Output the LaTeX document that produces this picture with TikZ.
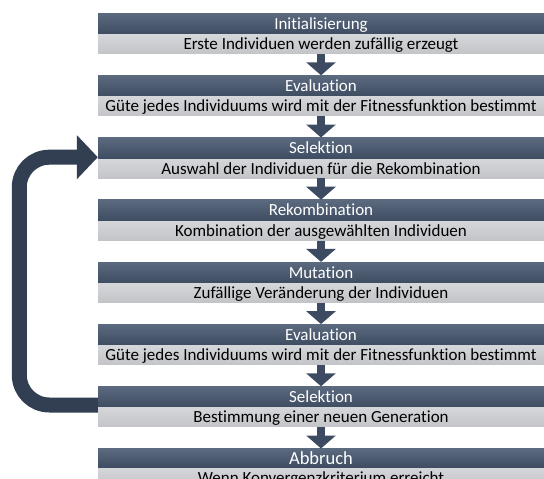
\documentclass[tikz,border=0pt]{standalone}
\usepackage{fontspec}
\setmainfont{Carlito}[Ligatures=NoCommon]
\usepackage{tikz}
\usetikzlibrary{arrows.meta,positioning}
\definecolor{headtop}{RGB}{92,106,128}
\definecolor{headbot}{RGB}{62,76,98}
\definecolor{subtop}{RGB}{212,214,217}
\definecolor{subbot}{RGB}{194,196,200}
\definecolor{arrowblue}{RGB}{61,75,98}
\definecolor{loopblue}{RGB}{50,62,82}

\begin{document}
\begin{tikzpicture}[
    x=1pt, y=-1pt,
    font=\fontsize{17}{20}\selectfont,
    head/.style={rectangle, top color=headtop, bottom color=headbot, text=white,
      minimum width=446pt, minimum height=21pt, inner sep=0pt,
      text height=10.9pt, text depth=0pt},
    headbig/.style={head, minimum height=19pt, text height=11.9pt,
      font=\fontsize{18.5}{22}\selectfont},
    sub/.style={head, top color=subtop, bottom color=subbot, text=black,
      minimum height=19pt},
    down/.style={-{Triangle[width=29pt, length=13pt]}, line width=8pt, arrowblue},
    back/.style={-{Triangle[width=43pt, length=21pt]}, line width=15pt, loopblue,
      rounded corners=30pt}
  ]
    \useasboundingbox (0,0) rectangle (544,479);
    \clip (0,0) rectangle (544,479);
    \node[head] (init) at (321,23.8) {Initialisierung};
    \node[sub, below=0pt of init] (initS) {Erste Individuen werden zufällig erzeugt};
    \node[head, below=21.4pt of initS] (evalA) {Evaluation};
    \node[sub, below=0pt of evalA] (evalAS)
      {Güte jedes Individuums wird mit der Fitnessfunktion bestimmt};
    \node[head, below=21.4pt of evalAS] (selA) {Selektion};
    \node[sub, below=0pt of selA] (selAS) {Auswahl der Individuen für die Rekombination};
    \node[head, below=21.4pt of selAS] (rekomb) {Rekombination};
    \node[sub, below=0pt of rekomb] (rekombS) {Kombination der ausgewählten Individuen};
    \node[head, below=21.4pt of rekombS] (mut) {Mutation};
    \node[sub, below=0pt of mut] (mutS) {Zufällige Veränderung der Individuen};
    \node[head, below=21.4pt of mutS] (evalB) {Evaluation};
    \node[sub, below=0pt of evalB] (evalBS)
      {Güte jedes Individuums wird mit der Fitnessfunktion bestimmt};
    \node[head, below=21.4pt of evalBS] (selB) {Selektion};
    \node[sub, below=0pt of selB] (selBS) {Bestimmung einer neuen Generation};
    \node[headbig, below=21.4pt of selBS] (stop) {Abbruch};
    \node[sub, below=0pt of stop] (stopS) {Wenn Konvergenzkriterium erreicht};
    \draw[down] (initS.south) -- (evalA.north);
    \draw[down] (evalAS.south) -- (selA.north);
    \draw[down] (selAS.south) -- (rekomb.north);
    \draw[down] (rekombS.south) -- (mut.north);
    \draw[down] (mutS.south) -- (evalB.north);
    \draw[down] (evalBS.south) -- (selB.north);
    \draw[down] (selBS.south) -- (stop.north);
    \draw[back] ([yshift=-8pt]selB.west) -- ++(-78.5,0) |- ([yshift=-9pt]selA.west);
  \end{tikzpicture}
\end{document}
